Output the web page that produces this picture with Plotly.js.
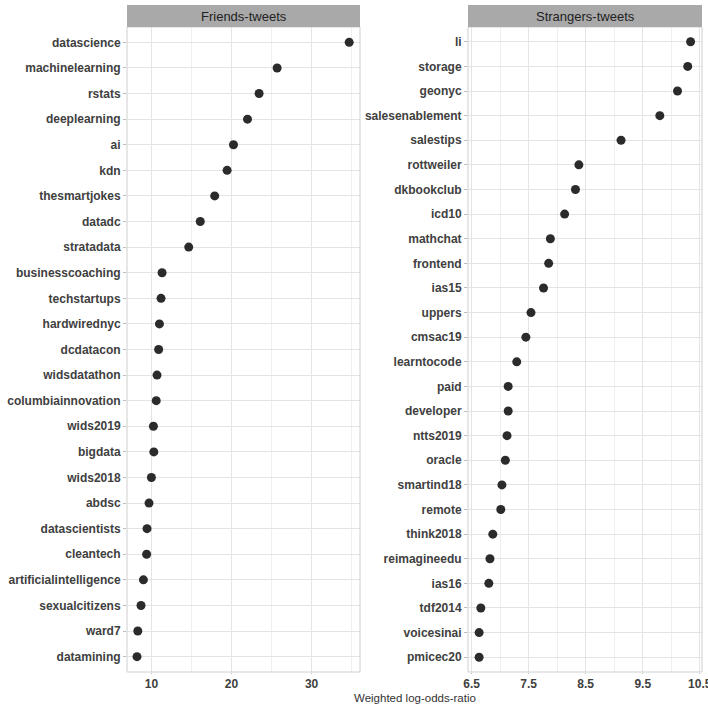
<!DOCTYPE html>
<html>
<head>
<meta charset="utf-8">
<script src="https://cdn.plot.ly/plotly-3.0.1.min.js"></script>
<style>html,body{margin:0;padding:0;background:#fff;}#chart{width:708px;height:707px;}</style>
</head>
<body>
<div id="chart"></div>
<script>
// Friends-tweets panel
const friendsTerms = ["datascience","machinelearning","rstats","deeplearning","ai","kdn","thesmartjokes","datadc","stratadata","businesscoaching","techstartups","hardwirednyc","dcdatacon","widsdatathon","columbiainnovation","wids2019","bigdata","wids2018","abdsc","datascientists","cleantech","artificialintelligence","sexualcitizens","ward7","datamining"];
const friendsValues = [34.7,25.7,23.45,22.0,20.25,19.45,17.9,16.1,14.66,11.33,11.2,11.0,10.9,10.7,10.6,10.25,10.3,10.0,9.7,9.45,9.4,9.0,8.7,8.3,8.2];

// Strangers-tweets panel
const strangersTerms = ["li","storage","geonyc","salesenablement","salestips","rottweiler","dkbookclub","icd10","mathchat","frontend","ias15","uppers","cmsac19","learntocode","paid","developer","ntts2019","oracle","smartind18","remote","think2018","reimagineedu","ias16","tdf2014","voicesinai","pmicec20"];
const strangersValues = [10.34,10.29,10.11,9.80,9.12,8.38,8.32,8.13,7.88,7.85,7.76,7.54,7.45,7.29,7.14,7.14,7.12,7.09,7.03,7.01,6.87,6.82,6.80,6.66,6.63,6.63];

const panelTitles = ["Friends-tweets","Strangers-tweets"];
const xTitle = "Weighted log-odds-ratio";

const W = 708, H = 707;
const px = v => v / W;
const py = v => 1 - v / H;

const dom1 = [px(127), px(360)];
const dom2 = [px(468), px(702)];
const ydom = [py(672), py(27)];

const markerStyle = {size: 9, color: '#2b2b2b'};
const traces = [
  {type:'scatter', mode:'markers', x: friendsValues, y: friendsTerms, xaxis:'x', yaxis:'y', marker: markerStyle, hoverinfo:'x+y'},
  {type:'scatter', mode:'markers', x: strangersValues, y: strangersTerms, xaxis:'x2', yaxis:'y2', marker: markerStyle, hoverinfo:'x+y'}
];

const tickFont = {family:'Liberation Sans, Arial, sans-serif', size:12, color:'#404040', weight:'bold'};
const gridCol = '#e4e4e4';
const minorCol = '#efefef';

function xAxis(domain, range, tick0, dtick, minorDtick, anchor) {
  return {
    domain: domain, range: range, anchor: anchor,
    tick0: tick0, dtick: dtick, tickmode:'linear',
    showgrid: true, gridcolor: gridCol, gridwidth: 1,
    minor: {tick0: tick0, dtick: minorDtick, showgrid: true, gridcolor: minorCol, gridwidth: 1, ticks: ''},
    zeroline: false, showline: false,
    ticks: 'outside', ticklen: 1, tickcolor: '#bdbdbd', tickwidth: 1,
    ticklabeloverflow: 'allow',
    tickfont: tickFont, fixedrange: true
  };
}
function yAxis(terms, anchor) {
  return {
    domain: ydom, anchor: anchor, type:'category',
    categoryorder:'array', categoryarray: terms,
    range: [terms.length - 1 + 0.6, -0.6],
    showgrid: true, gridcolor: gridCol, gridwidth: 1,
    zeroline: false, showline: false,
    ticks: 'outside', ticklen: 3, tickcolor: '#bdbdbd', tickwidth: 1,
    tickfont: tickFont, fixedrange: true
  };
}

const layout = {
  width: W, height: H,
  margin: {l:0, r:0, t:0, b:0, pad:0},
  paper_bgcolor:'#ffffff', plot_bgcolor:'#ffffff',
  showlegend: false,
  xaxis: xAxis(dom1, [6.95, 36.05], 10, 10, 5, 'y'),
  yaxis: yAxis(friendsTerms, 'x'),
  xaxis2: xAxis(dom2, [6.435, 10.54], 6.5, 1, 0.5, 'y2'),
  yaxis2: yAxis(strangersTerms, 'x2'),
  shapes: [
    // panel borders
    {type:'rect', xref:'paper', yref:'paper', x0:dom1[0], x1:dom1[1], y0:ydom[0], y1:ydom[1], line:{color:'#cfcfcf', width:1}},
    {type:'rect', xref:'paper', yref:'paper', x0:dom2[0], x1:dom2[1], y0:ydom[0], y1:ydom[1], line:{color:'#cfcfcf', width:1}},
    // strips
    {type:'rect', xref:'paper', yref:'paper', x0:dom1[0], x1:dom1[1], y0:ydom[1], y1:py(5), fillcolor:'#a9a9a9', line:{width:0}},
    {type:'rect', xref:'paper', yref:'paper', x0:dom2[0], x1:dom2[1], y0:ydom[1], y1:py(5), fillcolor:'#a9a9a9', line:{width:0}}
  ],
  annotations: [
    {text: panelTitles[0], xref:'paper', yref:'paper', x:(dom1[0]+dom1[1])/2, y:py(16), xanchor:'center', yanchor:'middle', showarrow:false, font:{family:'Liberation Sans, Arial, sans-serif', size:13, color:'#222222'}},
    {text: panelTitles[1], xref:'paper', yref:'paper', x:(dom2[0]+dom2[1])/2, y:py(16), xanchor:'center', yanchor:'middle', showarrow:false, font:{family:'Liberation Sans, Arial, sans-serif', size:13, color:'#222222'}},
    {text: xTitle, xref:'paper', yref:'paper', x:px(415), y:py(698), xanchor:'center', yanchor:'middle', showarrow:false, font:{family:'Liberation Sans, Arial, sans-serif', size:11.5, color:'#333333'}}
  ]
};

Plotly.newPlot('chart', traces, layout, {displayModeBar:false, staticPlot:true});
</script>
</body>
</html>
